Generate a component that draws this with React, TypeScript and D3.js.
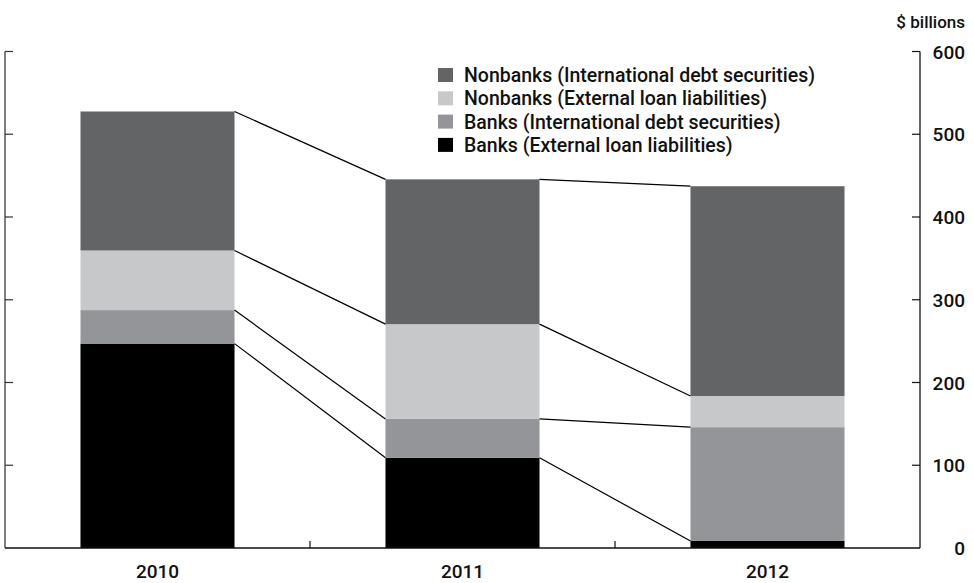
import React from "react";
import * as d3 from "d3";

const years = ["2010", "2011", "2012"];
const banksLoans = [247, 109, 8.5];
const banksDebt = [40.5, 47, 137.5];
const nonbanksLoans = [72, 114.5, 37.7];
const nonbanksDebt = [168, 175, 253.5];
const yTicks = [0, 100, 200, 300, 400, 500, 600];

const seriesNames = [
  "Banks (External loan liabilities)",
  "Banks (International debt securities)",
  "Nonbanks (External loan liabilities)",
  "Nonbanks (International debt securities)",
];
const seriesColors = ["#000000", "#939598", "#c7c8ca", "#636466"];

const W = 974;
const H = 583;
const left = 5;
const right = 920;
const top = 51.5;
const bottom = 548;
const FONT = "Roboto, 'Liberation Sans', sans-serif";

export default function App() {
  const x = d3.scaleBand<string>().domain(years).range([left, right]).padding(0);
  const y = d3.scaleLinear().domain([0, 600]).range([bottom, top]);
  const barFrac = 0.505;
  const bw = x.bandwidth() * barFrac;
  const bx = (yr: string) => (x(yr) as number) + (x.bandwidth() - bw) / 2;

  const rows = years.map((yr, i) => ({
    year: yr,
    s0: banksLoans[i],
    s1: banksDebt[i],
    s2: nonbanksLoans[i],
    s3: nonbanksDebt[i],
  }));
  const stack = d3.stack<any>().keys(["s0", "s1", "s2", "s3"]);
  const stacked = stack(rows);

  const connectors: { x1: number; y1: number; x2: number; y2: number }[] = [];
  stacked.forEach((layer) => {
    for (let i = 0; i < years.length - 1; i++) {
      connectors.push({
        x1: bx(years[i]) + bw,
        y1: y(layer[i][1]),
        x2: bx(years[i + 1]),
        y2: y(layer[i + 1][1]),
      });
    }
  });

  const legendOrder = [3, 2, 1, 0];
  const boundaries = [x(years[1]) as number, x(years[2]) as number];

  return (
    <svg
      width={W}
      height={H}
      style={{ position: "absolute", left: 0, top: 0, background: "#fff" }}
      fontFamily={FONT}
    >
      {stacked.map((layer, li) =>
        layer.map((d, i) => (
          <rect
            key={`${li}-${i}`}
            x={bx(years[i])}
            y={y(d[1])}
            width={bw}
            height={y(d[0]) - y(d[1])}
            fill={seriesColors[li]}
          />
        ))
      )}
      {connectors.map((c, i) => (
        <line key={i} x1={c.x1} y1={c.y1} x2={c.x2} y2={c.y2} stroke="#000" strokeWidth={1.2} />
      ))}
      {/* left axis */}
      <line x1={left} y1={top} x2={left} y2={bottom} stroke="#555" strokeWidth={1.5} />
      {yTicks.filter((t) => t > 0).map((t) => (
        <line key={t} x1={left} x2={left + 8} y1={y(t)} y2={y(t)} stroke="#333" strokeWidth={1.2} />
      ))}
      {/* right axis */}
      <line x1={right} y1={top} x2={right} y2={bottom} stroke="#111" strokeWidth={1.3} />
      {yTicks.filter((t) => t > 0).map((t) => (
        <line key={t} x1={right - 8} x2={right} y1={y(t)} y2={y(t)} stroke="#111" strokeWidth={1.2} />
      ))}
      {yTicks.map((t) => (
        <text key={t} x={965} y={y(t) + 7} textAnchor="end" fontSize={19} fontWeight={500} fill="#111">
          {t}
        </text>
      ))}
      <text x={965} y={28} textAnchor="end" fontSize={17} fontWeight={500} fill="#111">
        $ billions
      </text>
      {/* bottom axis */}
      <line x1={left} y1={bottom} x2={right} y2={bottom} stroke="#111" strokeWidth={1.3} />
      {boundaries.map((b, i) => (
        <line key={i} x1={b} x2={b} y1={bottom} y2={bottom - 7} stroke="#111" strokeWidth={1.2} />
      ))}
      {years.map((yr) => (
        <text
          key={yr}
          x={(x(yr) as number) + x.bandwidth() / 2}
          y={578}
          textAnchor="middle"
          fontSize={19}
          fontWeight={500}
          fill="#111"
        >
          {yr}
        </text>
      ))}
      {/* legend */}
      {legendOrder.map((si, r) => (
        <g key={si} transform={`translate(438, ${68 + r * 23.3})`}>
          <rect x={0} y={0} width={15} height={14} fill={seriesColors[si]} />
          <text x={26} y={14} fontSize={19.5} fontWeight={500} fill="#111">
            {seriesNames[si]}
          </text>
        </g>
      ))}
    </svg>
  );
}
